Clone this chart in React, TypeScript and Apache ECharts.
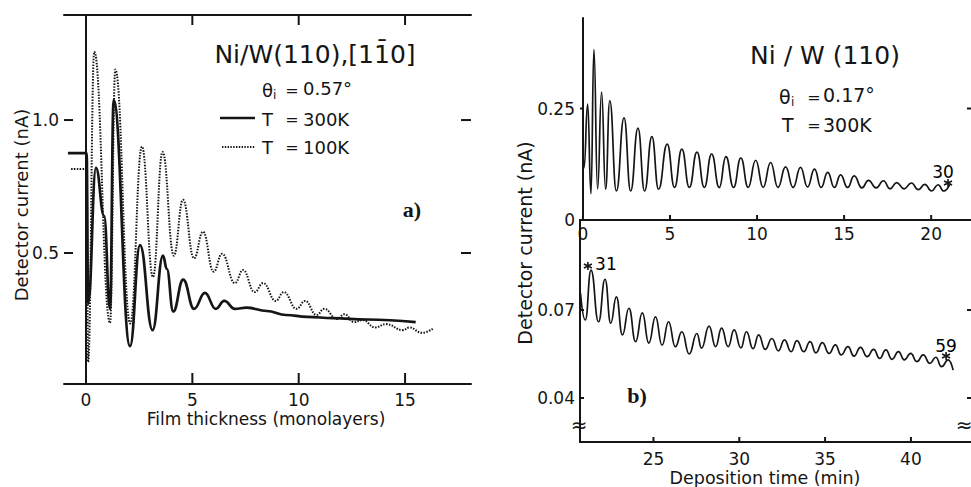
import React, { useEffect, useRef } from "react";
import * as echarts from "echarts";

const FONT = "DejaVu Sans";
const INK = "#151515";

// Left panel (a): Film thickness (monolayers) vs detector current (nA)
const leftXTicks = [0, 5, 10, 15];
const leftYTicks = [0.5, 1.0];
const curve300K: number[][] = [
  [-0.85, 0.876], [0.03, 0.876], [0.1, 0.31], [0.47, 0.82], [0.85, 0.64], [1.13, 0.29],
  [1.3, 1.075], [2.07, 0.15], [2.54, 0.53], [3.13, 0.21], [3.62, 0.49], [3.8, 0.44],
  [4.1, 0.28], [4.57, 0.4], [5.08, 0.29], [5.59, 0.35], [6.1, 0.29], [6.5, 0.32],
  [7.0, 0.29], [7.55, 0.295], [8.5, 0.282], [9.4, 0.267], [10.4, 0.26], [11.6, 0.255],
  [13.2, 0.25], [15.5, 0.24],
];
const curve100K: number[][] = [
  [-0.7, 0.816], [0.03, 0.816], [0.1, 0.09], [0.39, 1.257], [1.13, 0.237], [1.38, 1.19],
  [2.08, 0.235], [2.63, 0.9], [3.15, 0.41], [3.6, 0.88], [4.13, 0.49], [4.56, 0.7],
  [5.08, 0.48], [5.5, 0.58], [6.0, 0.43], [6.4, 0.497], [7.0, 0.387], [7.38, 0.436],
  [7.93, 0.353], [8.33, 0.387], [8.92, 0.32], [9.3, 0.353], [9.9, 0.29], [10.3, 0.32],
  [10.84, 0.267], [11.2, 0.29], [11.8, 0.252], [12.15, 0.27], [12.6, 0.24], [13.0, 0.248],
  [13.6, 0.22], [14.1, 0.233], [14.9, 0.21], [15.2, 0.22], [15.8, 0.2], [16.3, 0.215],
];

// Right panel (b), upper part: deposition time 0-21 min
const topXTicks = [0, 5, 10, 15, 20];
const topYTicks = [0, 0.25];
const topRightYTicks = [0.25];
const earlyTime: number[][] = [
  [0.0, 0.152], [0.06, 0.117], [0.27, 0.26], [0.46, 0.059], [0.63, 0.382], [0.84, 0.07],
  [1.07, 0.287], [1.3, 0.069], [1.54, 0.268], [1.92, 0.065], [2.36, 0.229], [2.74, 0.065],
  [3.16, 0.206], [3.54, 0.065], [3.96, 0.187], [4.34, 0.069], [4.84, 0.17], [5.26, 0.073],
  [5.68, 0.159], [6.11, 0.073], [6.55, 0.152], [6.97, 0.073], [7.39, 0.148], [7.83, 0.073],
  [8.21, 0.142], [8.65, 0.073], [9.07, 0.139], [9.49, 0.073], [9.92, 0.134], [10.35, 0.073],
  [10.78, 0.129], [11.2, 0.073], [11.64, 0.119], [12.07, 0.073], [12.5, 0.118], [12.9, 0.074],
  [13.3, 0.114], [13.68, 0.073], [14.06, 0.107], [14.44, 0.073], [14.8, 0.101], [15.2, 0.073],
  [15.58, 0.099], [16.02, 0.072], [16.4, 0.089], [16.84, 0.072], [17.26, 0.088], [17.64, 0.07],
  [18.02, 0.084], [18.44, 0.07], [18.87, 0.083], [19.26, 0.068], [19.64, 0.08], [20.02, 0.065],
  [20.4, 0.079], [20.72, 0.065], [21.07, 0.08],
];

// Right panel (b), lower part: deposition time 21-43 min
const bottomXTicks = [25, 30, 35, 40];
const bottomYTicks = [0.04, 0.07];
const lateTime: number[][] = [
  [20.75, 0.0757], [21.03, 0.0666], [21.36, 0.0836], [21.8, 0.066], [22.18, 0.0805],
  [22.51, 0.0655], [22.84, 0.0745], [23.19, 0.0615], [23.57, 0.0706], [23.96, 0.0592],
  [24.35, 0.069], [24.73, 0.0587], [25.12, 0.0677], [25.5, 0.058], [25.88, 0.066],
  [26.27, 0.0575], [26.66, 0.0626], [27.08, 0.055], [27.53, 0.062], [27.8, 0.057],
  [28.24, 0.0645], [28.62, 0.0575], [28.97, 0.0638], [29.35, 0.0575], [29.7, 0.0632],
  [30.09, 0.0571], [30.42, 0.0626], [30.8, 0.0568], [31.13, 0.0615], [31.51, 0.0566],
  [31.9, 0.0603], [32.28, 0.0561], [32.63, 0.0598], [33.02, 0.0558], [33.36, 0.0596],
  [33.75, 0.0558], [34.13, 0.0592], [34.46, 0.0554], [34.84, 0.0589], [35.23, 0.0552],
  [35.6, 0.0581], [35.94, 0.0547], [36.33, 0.0575], [36.68, 0.0543], [37.06, 0.0573],
  [37.45, 0.0541], [37.83, 0.0566], [38.18, 0.0535], [38.54, 0.0564], [38.89, 0.0532],
  [39.28, 0.0558], [39.61, 0.053], [39.99, 0.0552], [40.34, 0.0524], [40.72, 0.0547],
  [41.1, 0.0518], [41.45, 0.0539], [41.78, 0.0507], [42.17, 0.053], [42.46, 0.0495],
];

// Numbered oscillation markers
const topMarkers: (number | string)[][] = [[20.97, 0.083, "30"]];
const bottomMarkers: (number | string)[][] = [[21.18, 0.085, "31"], [42.05, 0.0543, "59"]];

// axis ranges
const leftX = [-1.034, 18.1];
const leftY = [0.0075, 1.395];
const topX = [-0.17, 22.29];
const topY = [0, 0.453];
const botX = [20.72, 43.5];
const botY = [0.025, 0.1007];

const ASTERISK = "path://M5,0L5,10M0.7,2.5L9.3,7.5M0.7,7.5L9.3,2.5";

function axisLineStyle(width = 2) {
  return { show: true, lineStyle: { color: INK, width } };
}

export default function App() {
  const ref = useRef<HTMLDivElement>(null);
  useEffect(() => {
    if (!ref.current) return;
    const chart = echarts.init(ref.current, undefined, { renderer: "svg" });
    const labelBase = { color: INK, fontFamily: FONT, fontSize: 17 };
    const txt = (x: number, y: number, text: string, fontSize: number, extra: any = {}) => ({
      type: "text",
      x,
      y,
      style: {
        text,
        fill: INK,
        font: `${extra.weight || "normal"} ${fontSize}px ${extra.family || FONT}`,
        textAlign: extra.align || "left",
        textVerticalAlign: "middle",
      },
      rotation: extra.rotation || 0,
    });
    const xAx = (gridIndex: number, position: string, range: number[], labels: number[] | null, margin = 6) => ({
      type: "value", gridIndex, position, min: range[0], max: range[1],
      axisLine: axisLineStyle(2),
      axisTick: { show: false },
      axisLabel: labels ? { ...labelBase, margin, customValues: labels } : { show: false },
      splitLine: { show: false },
    });
    const yAx = (gridIndex: number, position: string, range: number[], labels: number[] | null, fmt: any, showLine = true) => ({
      type: "value", gridIndex, position, min: range[0], max: range[1],
      axisLine: showLine ? axisLineStyle(2) : { show: false },
      axisTick: { show: false },
      axisLabel: labels ? { ...labelBase, margin: 5, customValues: labels, formatter: fmt } : { show: false },
      splitLine: { show: false },
    });

    const option: any = {
      animation: false,
      backgroundColor: "#ffffff",
      grid: [
        { left: 64, top: 15, width: 407, height: 369 },
        { left: 580, top: 18, width: 393, height: 202 },
        { left: 580, top: 220, width: 393, height: 222 },
      ],
      xAxis: [
        xAx(0, "bottom", leftX, leftXTicks, 7),
        xAx(0, "top", leftX, null),
        xAx(1, "bottom", topX, topXTicks, 5),
        xAx(1, "top", topX, null),
        xAx(2, "bottom", botX, bottomXTicks, 8),
      ],
      yAxis: [
        yAx(0, "left", leftY, leftYTicks, (v: number) => v.toFixed(1)),
        yAx(0, "right", leftY, null, null),
        yAx(1, "left", topY, topYTicks, (v: number) => String(v)),
        yAx(1, "right", topY, null, null, false),
        yAx(2, "left", botY, bottomYTicks, (v: number) => v.toFixed(2)),
        yAx(2, "right", botY, null, null, false),
      ],
      series: [
        {
          name: "T = 300K", type: "line", xAxisIndex: 0, yAxisIndex: 0, data: curve300K,
          smooth: 0.45, smoothMonotone: "x", showSymbol: false, symbol: "none",
          lineStyle: { color: INK, width: 2.7 },
        },
        {
          name: "T = 100K", type: "line", xAxisIndex: 0, yAxisIndex: 0, data: curve100K,
          smooth: 0.45, smoothMonotone: "x", showSymbol: false, symbol: "none",
          lineStyle: { color: INK, width: 2, type: [1.5, 1.4] },
        },
        {
          name: "early", type: "line", xAxisIndex: 2, yAxisIndex: 2, data: earlyTime,
          smooth: 0.5, smoothMonotone: "x", showSymbol: false, symbol: "none",
          lineStyle: { color: INK, width: 1.7 },
        },
        {
          name: "late", type: "line", xAxisIndex: 4, yAxisIndex: 4, data: lateTime,
          smooth: 0.5, smoothMonotone: "x", showSymbol: false, symbol: "none",
          lineStyle: { color: INK, width: 1.7 },
        },
        {
          name: "markers top", type: "scatter", xAxisIndex: 2, yAxisIndex: 2,
          data: topMarkers.map((m) => ({ value: [m[0], m[1]], name: m[2] })),
          symbol: ASTERISK, symbolSize: 8,
          itemStyle: { color: INK, borderColor: INK, borderWidth: 1.6, opacity: 1 },
          label: { show: true, formatter: "{b}", position: "top", color: "#000", fontFamily: FONT, fontSize: 17 },
          labelLayout: () => ({ dx: -5, dy: 7 }),
        },
        {
          name: "markers bottom", type: "scatter", xAxisIndex: 4, yAxisIndex: 4,
          data: bottomMarkers.map((m) => ({ value: [m[0], m[1]], name: m[2] })),
          symbol: ASTERISK, symbolSize: 8,
          itemStyle: { color: INK, borderColor: INK, borderWidth: 1.6, opacity: 1 },
          label: { show: true, formatter: "{b}", position: "top", color: "#000", fontFamily: FONT, fontSize: 17 },
          labelLayout: (p: any) => (p.dataIndex === 0 ? { dx: 18, dy: 16 } : { dy: 8 }),
        },
      ],
    };
    chart.setOption(option);

    // tick marks drawn through the axes' own scales
    const tickLines: any[] = [];
    const px = (axis: string, idx: number, v: number) => chart.convertToPixel({ [axis]: idx } as any, v) as number;
    const addX = (xi: number, yi: number, yRange: number[], vals: number[], lenBottom: number, lenTop: number) => {
      const yb = px("yAxisIndex", yi, yRange[0]);
      const yt = px("yAxisIndex", yi, yRange[1]);
      vals.forEach((v) => {
        const x = px("xAxisIndex", xi, v);
        if (lenBottom) tickLines.push({ type: "line", shape: { x1: x, y1: yb, x2: x, y2: yb - lenBottom }, style: { stroke: INK, lineWidth: 2 } });
        if (lenTop) tickLines.push({ type: "line", shape: { x1: x, y1: yt, x2: x, y2: yt + lenTop }, style: { stroke: INK, lineWidth: 2 } });
      });
    };
    const addY = (xi: number, yi: number, xRange: number[], vals: number[], lenLeft: number, lenRight: number, rightVals?: number[]) => {
      const xl = px("xAxisIndex", xi, xRange[0]);
      const xr = Math.min(px("xAxisIndex", xi, xRange[1]), 971);
      vals.forEach((v) => {
        const y = px("yAxisIndex", yi, v);
        if (lenLeft) tickLines.push({ type: "line", shape: { x1: xl, y1: y, x2: xl + lenLeft, y2: y }, style: { stroke: INK, lineWidth: 2 } });
      });
      (rightVals || vals).forEach((v) => {
        const y = px("yAxisIndex", yi, v);
        if (lenRight) tickLines.push({ type: "line", shape: { x1: xr, y1: y, x2: xr - lenRight, y2: y }, style: { stroke: INK, lineWidth: 2 } });
      });
    };
    addX(0, 0, leftY, leftXTicks, 11, 10);
    addY(0, 0, leftX, leftYTicks, 9, 10);
    addX(2, 2, topY, topXTicks, 5, 0);
    addY(2, 2, topX, [0.25], 4, 4, topRightYTicks);
    addX(4, 4, botY, bottomXTicks, 5, 0);
    addY(4, 4, botX, bottomYTicks, 4, 4);

    const annotations: any[] = [
      // panel a
      txt(315, 54, "Ni/W(110),[11\u03040]", 25, { align: "center" }),
      txt(262, 90, "\u03b8", 18),
      txt(273, 95, "i", 12),
      txt(292, 90, "=", 16, { align: "center" }),
      txt(303, 88, "0.57\u00b0", 18),
      { type: "line", shape: { x1: 220, y1: 118, x2: 255, y2: 118 }, style: { stroke: INK, lineWidth: 2.4 } },
      txt(262, 119, "T", 18),
      txt(292, 119, "=", 16, { align: "center" }),
      txt(303, 119, "300K", 18),
      { type: "line", shape: { x1: 222, y1: 147, x2: 255, y2: 147 }, style: { stroke: INK, lineWidth: 1.8, lineDash: [1.4, 1.4] } },
      txt(262, 147, "T", 18),
      txt(292, 147, "=", 16, { align: "center" }),
      txt(303, 147, "100K", 18),
      txt(412, 209, "a)", 22, { weight: "bold", family: "Liberation Serif", align: "center" }),
      txt(21, 205, "Detector current (nA)", 18, { align: "center", rotation: Math.PI / 2 }),
      txt(266, 419, "Film thickness (monolayers)", 17, { align: "center" }),
      // panel b
      txt(825, 55, "Ni / W (110)", 25, { align: "center" }),
      txt(779, 97, "\u03b8", 19),
      txt(791, 102, "i", 12),
      txt(814, 97, "=", 16, { align: "center" }),
      txt(823, 95, "0.17\u00b0", 19),
      txt(782, 125, "T", 19),
      txt(814, 125, "=", 16, { align: "center" }),
      txt(823, 125, "300K", 19),
      txt(637, 395, "b)", 22, { weight: "bold", family: "Liberation Serif", align: "center" }),
      txt(525, 243, "Detector current (nA)", 19, { align: "center", rotation: Math.PI / 2 }),
      txt(765, 478, "Deposition time (min)", 17.5, { align: "center" }),
      txt(579, 425, "\u2248", 20, { align: "center" }),
      txt(964, 425, "\u2248", 20, { align: "center" }),
    ];
    chart.setOption({ graphic: [...tickLines, ...annotations] });
    return () => chart.dispose();
  }, []);
  return (
    <div
      ref={ref}
      style={{ position: "fixed", left: 0, top: 0, width: 971, height: 487, background: "#fff" }}
    />
  );
}
